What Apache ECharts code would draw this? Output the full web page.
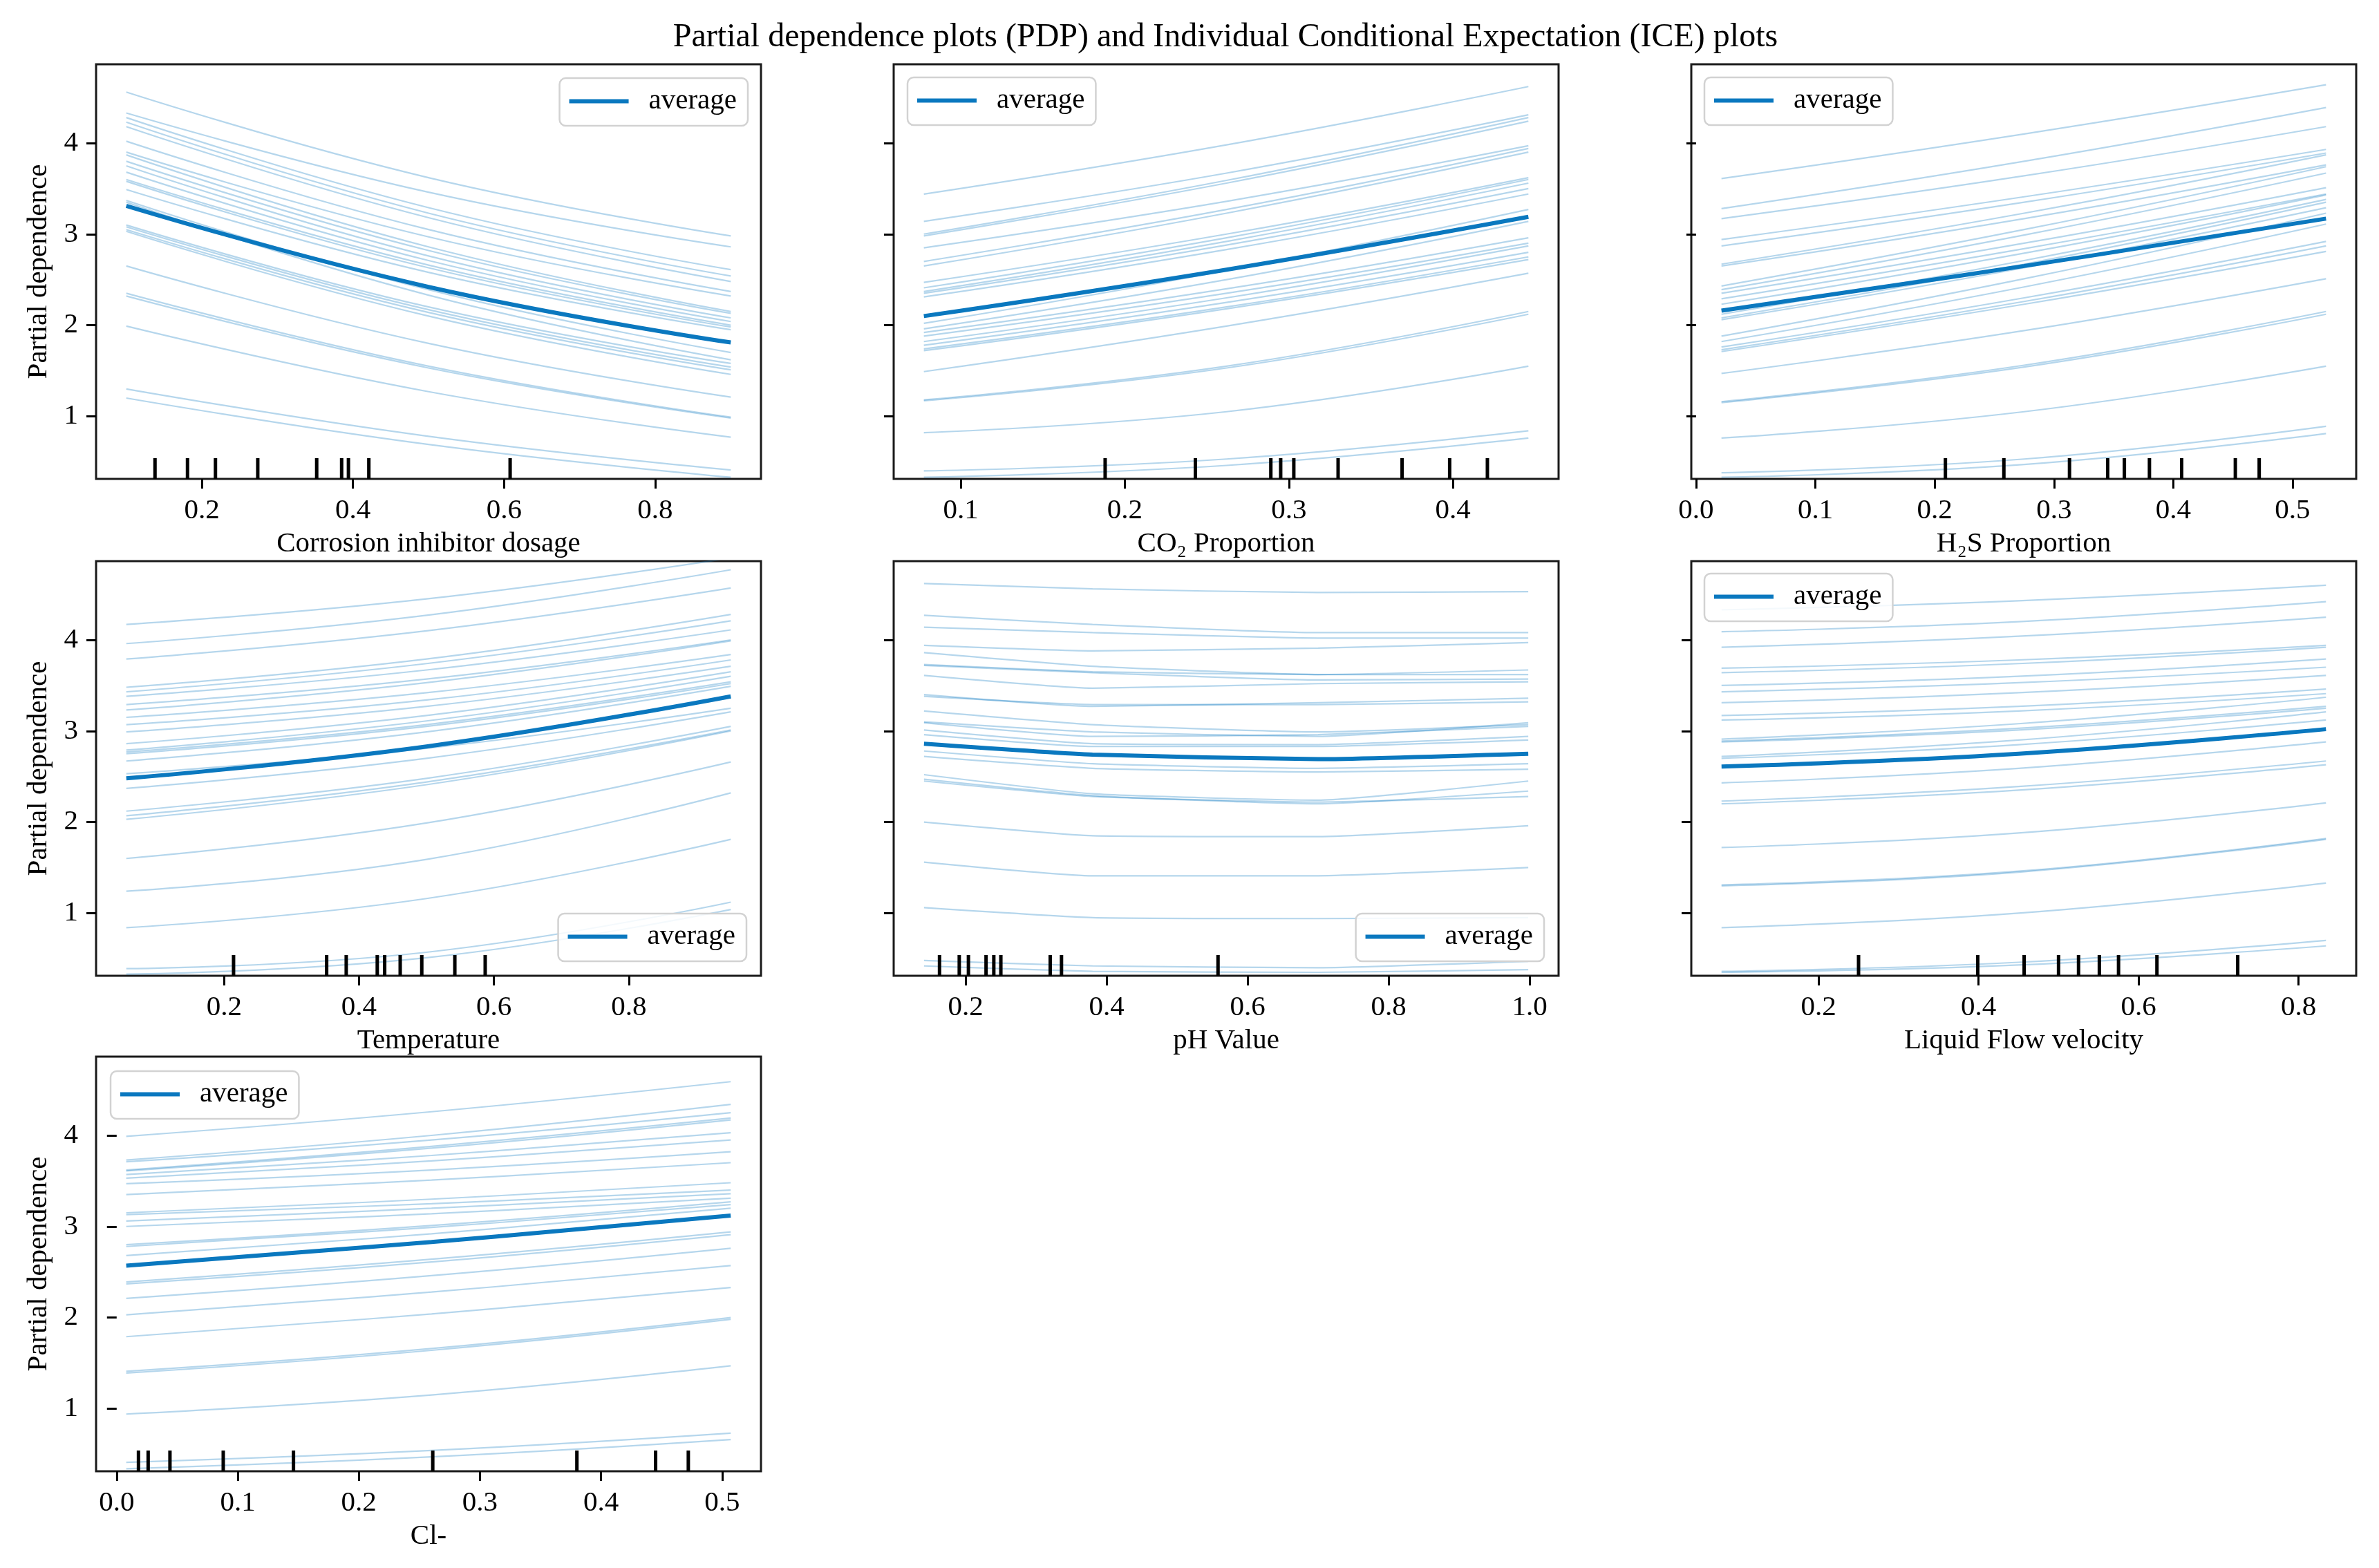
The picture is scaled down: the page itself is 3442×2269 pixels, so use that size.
<!DOCTYPE html>
<html><head><meta charset="utf-8">
<script src="https://cdn.jsdelivr.net/npm/echarts@6/dist/echarts.min.js"></script>
<style>html,body{margin:0;padding:0;background:#fff}#c{width:3442px;height:2269px}</style>
</head><body><div id="c"></div>
<script>
// ---------------- DATA ----------------
const titleText = 'Partial dependence plots (PDP) and Individual Conditional Expectation (ICE) plots';
const featureNames = ['Corrosion inhibitor dosage', 'CO\u2082 Proportion', 'H\u2082S Proportion', 'Temperature', 'pH Value', 'Liquid Flow velocity', 'Cl-'];
const yTicks = [1, 2, 3, 4];

const xGrid1 = [0.1, 0.5, 0.9];
const ice1 = [
 [4.56,3.62,2.98],[4.33,3.46,2.86],[4.28,3.29,2.61],[4.23,3.23,2.54],[4.18,3.18,2.48],
 [4.02,3.05,2.37],[3.90,2.97,2.32],[3.87,2.86,2.15],[3.80,2.82,2.13],[3.75,2.76,2.08],
 [3.68,2.71,2.04],[3.60,2.66,2.00],[3.58,2.63,1.98],[3.49,2.58,1.95],[3.37,2.39,1.70],
 [3.35,2.33,1.62],[3.10,2.20,1.58],[3.08,2.17,1.54],[3.05,2.14,1.51],[3.03,2.10,1.46],
 [2.65,1.80,1.21],[2.35,1.55,0.99],[2.32,1.53,0.98],[1.99,1.27,0.77],[1.30,0.78,0.41],
 [1.20,0.69,0.33]];
const avg1 = [3.31, 2.42, 1.81];
const rug1 = [0.138,0.181,0.218,0.274,0.352,0.385,0.394,0.421,0.608];
const xTicks1 = [0.2, 0.4, 0.6, 0.8];

const xGrid2 = [0.0775, 0.262, 0.446];
const ice2 = [
 [3.44,3.98,4.62],[3.14,3.67,4.31],[3.00,3.59,4.28],[2.98,3.56,4.24],[2.85,3.36,3.97],
 [2.70,3.27,3.94],[2.65,3.23,3.90],[2.47,3.00,3.62],[2.41,2.96,3.60],[2.37,2.92,3.56],
 [2.35,2.88,3.50],[2.31,2.83,3.44],[2.02,2.60,3.27],[1.96,2.50,3.14],[1.92,2.40,2.96],
 [1.88,2.35,2.90],[1.82,2.30,2.87],[1.78,2.25,2.80],[1.74,2.20,2.75],[1.72,2.18,2.72],
 [1.49,1.99,2.57],[1.18,1.55,2.15],[1.17,1.53,2.12],[0.82,1.05,1.55],[0.40,0.53,0.84],
 [0.33,0.46,0.76]];
const avg2 = [2.10, 2.61, 3.19];
const rug2 = [0.188,0.243,0.289,0.295,0.303,0.330,0.369,0.398,0.421];
const xTicks2 = [0.1, 0.2, 0.3, 0.4];

const xGrid3 = [0.0213, 0.275, 0.528];
const ice3 = [
 [3.61,4.10,4.64],[3.28,3.80,4.39],[3.17,3.64,4.18],[2.94,3.41,3.93],[2.87,3.35,3.89],
 [2.67,3.23,3.87],[2.65,3.17,3.76],[2.43,3.05,3.74],[2.39,2.99,3.67],[2.35,2.90,3.51],
 [2.29,2.84,3.44],[2.23,2.79,3.43],[2.12,2.71,3.38],[2.08,2.67,3.35],[2.06,2.63,3.29],
 [1.88,2.51,3.23],[1.82,2.42,3.11],[1.76,2.30,2.92],[1.73,2.26,2.87],[1.71,2.23,2.81],
 [1.47,1.94,2.51],[1.16,1.56,2.15],[1.15,1.54,2.12],[0.76,1.05,1.55],[0.38,0.53,0.89],
 [0.33,0.47,0.81]];
const avg3 = [2.16, 2.65, 3.17];
const rug3 = [0.209,0.258,0.313,0.345,0.359,0.380,0.407,0.452,0.472];
const xTicks3 = [0.0, 0.1, 0.2, 0.3, 0.4, 0.5];

const xGrid4 = [0.055, 0.5, 0.951];
const ice4 = [
 [4.17,4.45,4.90],[3.96,4.27,4.77],[3.79,4.10,4.57],[3.48,3.79,4.28],[3.43,3.74,4.21],
 [3.38,3.67,4.11],[3.29,3.57,4.00],[3.23,3.53,3.99],[3.15,3.42,3.84],[3.07,3.34,3.78],
 [2.99,3.27,3.71],[2.86,3.17,3.65],[2.79,3.11,3.60],[2.77,3.07,3.54],[2.75,3.05,3.52],
 [2.67,2.99,3.49],[2.53,2.81,3.25],[2.37,2.70,3.21],[2.12,2.48,3.05],[2.07,2.44,3.01],
 [2.03,2.41,3.00],[1.60,1.99,2.66],[1.24,1.59,2.32],[0.84,1.16,1.81],[0.39,0.57,1.12],
 [0.33,0.51,1.04]];
const avg4 = [2.48, 2.83, 3.38];
const rug4 = [0.214,0.352,0.381,0.427,0.438,0.461,0.493,0.542,0.587];
const xTicks4 = [0.2, 0.4, 0.6, 0.8];

const xGrid5 = [0.141, 0.38, 0.70, 0.998];
const ice5 = [
 [4.62,4.56,4.52,4.53],[4.27,4.17,4.08,4.08],[4.14,4.08,4.02,4.02],[3.94,3.88,3.91,3.97],
 [3.86,3.71,3.62,3.67],[3.73,3.65,3.62,3.62],[3.72,3.64,3.56,3.57],[3.61,3.47,3.52,3.54],
 [3.40,3.27,3.31,3.36],[3.38,3.29,3.29,3.32],[3.22,3.07,2.99,3.07],[3.10,2.99,2.94,3.09],
 [3.09,2.94,2.96,3.05],[3.01,2.86,2.85,2.94],[2.96,2.83,2.83,2.90],[2.78,2.64,2.59,2.64],
 [2.72,2.59,2.55,2.58],[2.52,2.31,2.24,2.45],[2.47,2.29,2.20,2.34],[2.45,2.28,2.22,2.28],
 [2.00,1.85,1.84,1.96],[1.56,1.41,1.41,1.50],[1.06,0.95,0.94,0.95],[0.48,0.42,0.40,0.47],
 [0.42,0.36,0.35,0.38]];
const avg5 = [2.86, 2.74, 2.69, 2.75];
const rug5 = [0.163,0.191,0.204,0.229,0.240,0.250,0.320,0.336,0.558];
const xTicks5 = [0.2, 0.4, 0.6, 0.8, 1.0];

const xGrid6 = [0.0787, 0.45, 0.8343];
const ice6 = [
 [4.33,4.43,4.60],[4.09,4.20,4.42],[3.92,4.04,4.25],[3.69,3.78,3.94],[3.64,3.74,3.92],
 [3.50,3.60,3.79],[3.43,3.53,3.70],[3.31,3.42,3.61],[3.17,3.27,3.46],[3.12,3.22,3.41],
 [2.91,3.08,3.37],[2.89,3.03,3.27],[2.88,3.01,3.25],[2.72,2.90,3.21],[2.70,2.85,3.12],
 [2.43,2.59,2.88],[2.23,2.39,2.67],[2.20,2.35,2.63],[1.72,1.88,2.21],[1.31,1.46,1.82],
 [1.30,1.45,1.81],[0.84,1.00,1.33],[0.36,0.46,0.70],[0.35,0.43,0.64]];
const avg6 = [2.61, 2.75, 3.02];
const rug6 = [0.250,0.399,0.457,0.500,0.525,0.551,0.575,0.623,0.724];
const xTicks6 = [0.2, 0.4, 0.6, 0.8];

const xGrid7 = [0.0079, 0.26, 0.507];
const ice7 = [
 [3.99,4.26,4.59],[3.73,4.00,4.34],[3.71,3.95,4.25],[3.62,3.88,4.19],[3.61,3.86,4.17],
 [3.57,3.78,4.03],[3.53,3.72,3.95],[3.47,3.62,3.82],[3.35,3.51,3.70],[3.15,3.30,3.48],
 [3.13,3.25,3.40],[3.06,3.20,3.36],[3.00,3.14,3.31],[2.80,3.01,3.27],[2.78,2.99,3.24],
 [2.68,2.92,3.20],[2.39,2.64,2.94],[2.37,2.61,2.91],[2.21,2.46,2.76],[2.03,2.28,2.57],
 [1.79,2.04,2.33],[1.41,1.66,2.00],[1.39,1.64,1.98],[0.94,1.15,1.47],[0.41,0.54,0.73],
 [0.34,0.47,0.66]];
const avg7 = [2.57, 2.83, 3.12];
const rug7 = [0.018,0.026,0.044,0.088,0.146,0.261,0.380,0.445,0.472];
const xTicks7 = [0.0, 0.1, 0.2, 0.3, 0.4, 0.5];

// ---------------- LAYOUT / STYLE ----------------
const FONT = '"Liberation Serif", "Times New Roman", "DejaVu Serif", serif';
const BLUE = '#0a78bf';
const Y_MIN = 0.312, Y_MAX = 4.865;
const colLeft = [139, 1293, 2447];
const rowTop = [93, 812, 1529];
const GW = 962, GH = 600;

const panels = [
 {xg:xGrid1, ice:ice1, avg:avg1, rug:rug1, ticks:xTicks1, min:0.06,  max:0.94,  col:0,row:0, smooth:0.45, leg:{right:3442-1082, top:113}},
 {xg:xGrid2, ice:ice2, avg:avg2, rug:rug2, ticks:xTicks2, min:0.0591,max:0.4644,col:1,row:0, smooth:0.45, leg:{left:1313, top:112}},
 {xg:xGrid3, ice:ice3, avg:avg3, rug:rug3, ticks:xTicks3, min:-0.004,max:0.5533,col:2,row:0, smooth:0.45, leg:{left:2466, top:112}},
 {xg:xGrid4, ice:ice4, avg:avg4, rug:rug4, ticks:xTicks4, min:0.0102,max:0.9958,col:0,row:1, smooth:0.45, leg:{right:3442-1080, bottom:2269-1391}},
 {xg:xGrid5, ice:ice5, avg:avg5, rug:rug5, ticks:xTicks5, min:0.098, max:1.041, col:1,row:1, smooth:0.15, leg:{right:3442-2234, bottom:2269-1391}},
 {xg:xGrid6, ice:ice6, avg:avg6, rug:rug6, ticks:xTicks6, min:0.0409,max:0.8721,col:2,row:1, smooth:0.45, leg:{left:2466, top:830}},
 {xg:xGrid7, ice:ice7, avg:avg7, rug:rug7, ticks:xTicks7, min:-0.017,max:0.532, col:0,row:2, smooth:0.45, leg:{left:160, top:1550}}
];

const grid = [], xAxis = [], yAxis = [], series = [], legend = [];
panels.forEach((p, i) => {
  grid.push({left: colLeft[p.col], top: rowTop[p.row], width: GW, height: GH,
    show: true, borderColor: '#1a1a1a', borderWidth: 3, backgroundColor: 'transparent',
    outerBoundsMode: 'none', containLabel: false});
  xAxis.push({gridIndex: i, type: 'value', min: p.min, max: p.max,
    axisLine: {show: false}, splitLine: {show: false},
    axisTick: {show: true, length: 14, lineStyle: {color: '#000', width: 3}, customValues: p.ticks},
    axisLabel: {customValues: p.ticks, formatter: v => Number(v).toFixed(1), fontFamily: FONT, fontSize: 41, color: '#000', margin: 26},
    name: featureNames[i], nameLocation: 'middle', nameGap: 74,
    nameTextStyle: {fontFamily: FONT, fontSize: 41, color: '#000'}});
  yAxis.push({gridIndex: i, type: 'value', min: Y_MIN, max: Y_MAX,
    axisLine: {show: false}, splitLine: {show: false},
    axisTick: {show: true, length: 14, lineStyle: {color: '#000', width: 3}, customValues: yTicks},
    axisLabel: {show: p.col === 0, customValues: yTicks, formatter: v => String(Math.round(v)), fontFamily: FONT, fontSize: 41, color: '#000', margin: 26},
    name: p.col === 0 ? 'Partial dependence' : '', nameLocation: 'middle', nameRotate: 90, nameGap: 62,
    nameTextStyle: {fontFamily: FONT, fontSize: 41, color: '#000'}});
  p.ice.forEach(line => {
    series.push({type: 'line', name: 'ice', xAxisIndex: i, yAxisIndex: i, silent: true,
      data: p.xg.map((x, k) => [x, line[k]]), symbol: 'none', showSymbol: false, smooth: p.smooth,
      lineStyle: {color: BLUE, width: 2.2, opacity: 0.3}, z: 2, animation: false});
  });
  series.push({type: 'line', name: 'average', xAxisIndex: i, yAxisIndex: i, silent: true,
    data: p.xg.map((x, k) => [x, p.avg[k]]), symbol: 'none', showSymbol: false, smooth: p.smooth,
    lineStyle: {color: BLUE, width: 6}, itemStyle: {color: BLUE}, z: 3, animation: false});
  series.push({type: 'custom', name: 'deciles', xAxisIndex: i, yAxisIndex: i, silent: true,
    data: p.rug.map(v => [v, Y_MIN]), encode: {x: 0, y: 1}, z: 4,
    renderItem: (params, api) => {
      const pt = api.coord([api.value(0), api.value(1)]);
      const h = params.coordSys.height * 0.05;
      return {type: 'line', shape: {x1: pt[0], y1: pt[1], x2: pt[0], y2: pt[1] - h},
        style: {stroke: '#000', lineWidth: 5}};
    }});
  legend.push(Object.assign({data: [{name: 'average'}], orient: 'horizontal', selectedMode: false,
    icon: 'rect', itemWidth: 86, itemHeight: 6,
    textStyle: {fontFamily: FONT, fontSize: 41, color: '#000', padding: [0, 0, 0, 24]},
    padding: [13, 16, 15, 14], backgroundColor: 'rgba(255,255,255,0.85)',
    borderColor: '#d2d2d2', borderWidth: 2.5, borderRadius: 9}, p.leg));
});

const chart = echarts.init(document.getElementById('c'), null, {renderer: 'canvas'});
chart.setOption({
  backgroundColor: '#fff',
  animation: false,
  graphic: [{type: 'text', x: 1773, y: 54, silent: true,
    style: {text: titleText, fill: '#000', fontFamily: FONT, fontSize: 48,
      textAlign: 'center', textVerticalAlign: 'middle', align: 'center', verticalAlign: 'middle'}}],
  grid, xAxis, yAxis, legend, series
});
</script></body></html>
